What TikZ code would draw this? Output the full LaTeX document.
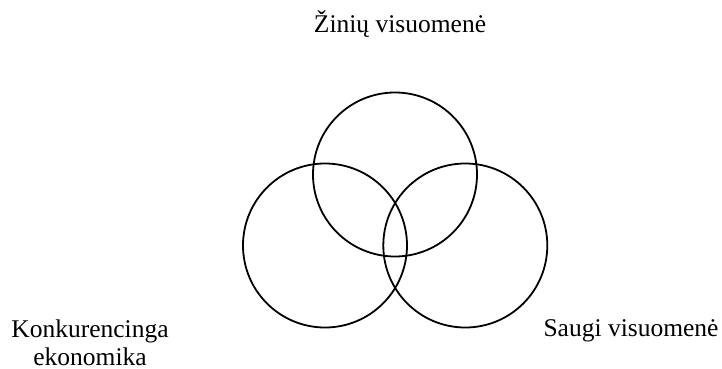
\documentclass[tikz,border=0pt]{standalone}
\usepackage{fontspec}
\setmainfont{Liberation Serif}
\begin{document}
\begin{tikzpicture}[x=1pt,y=-1pt,
  ring/.style={draw=black,line width=1.8pt,circle,minimum size=164pt,inner sep=0pt},
  lbl/.style={font=\fontsize{25.5}{28}\selectfont,inner sep=0pt,anchor=base,align=center}]
\useasboundingbox (0,0) rectangle (722,369);
\node[ring] (top) at (395,174.5) {};
\node[ring] (left) at (325,245.5) {};
\node[ring] (right) at (465.3,245.5) {};
\node[lbl] (ltop) at (400,33) {Žinių visuomenė};
\node[lbl] (lleft) at (90,365) {Konkurencinga\\ekonomika};
\node[lbl] (lright) at (631,336) {Saugi visuomenė};
\end{tikzpicture}
\end{document}
